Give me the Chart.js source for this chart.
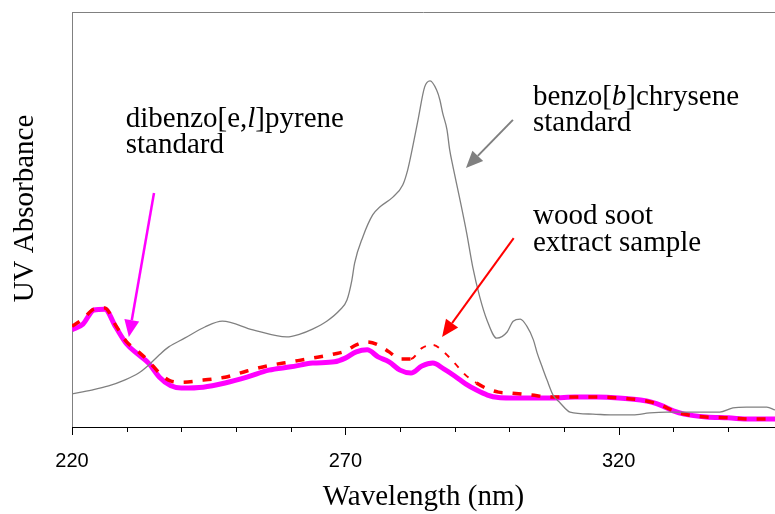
<!DOCTYPE html>
<html>
<head>
<meta charset="utf-8">
<script src="https://cdn.jsdelivr.net/npm/chart.js@4.4.0/dist/chart.umd.min.js"></script>
<style>
html,body{margin:0;padding:0;background:#fff;overflow:hidden}
#uv{display:block}
</style>
</head>
<body>
<canvas id="uv" width="775" height="514"></canvas>
<script>
// wavelength grid (nm) shared by the soot extract and the dibenzo[e,l]pyrene standard
const wavelengths = [220, 222, 224, 226, 228, 230, 232, 234, 236, 238, 240,
  244, 248, 252, 256, 260, 264, 268,
  270, 272, 274, 276, 278, 280, 282, 284, 286, 288, 290, 292, 294, 296, 298, 300,
  304, 308, 312, 316, 320, 324, 326, 328, 330, 332, 336, 340, 344, 348.6];

const dibenzoStd = [0.234, 0.248, 0.282, 0.284, 0.241, 0.200, 0.176, 0.154, 0.120, 0.100, 0.094,
  0.096, 0.106, 0.120, 0.137, 0.145, 0.154, 0.157,
  0.166, 0.181, 0.186, 0.169, 0.157, 0.137, 0.130, 0.147, 0.154, 0.140, 0.123, 0.104, 0.089, 0.077, 0.071, 0.070,
  0.070, 0.070, 0.072, 0.072, 0.070, 0.065, 0.060, 0.051, 0.039, 0.031, 0.024, 0.022, 0.019, 0.019];

const sootSample = [0.243, 0.260, 0.284, 0.287, 0.245, 0.205, 0.183, 0.159, 0.130, 0.111, 0.108,
  0.113, 0.120, 0.135, 0.148, 0.157, 0.166, 0.176,
  0.183, 0.198, 0.205, 0.198, 0.181, 0.164, 0.164, 0.190, 0.198, 0.181, 0.154, 0.125, 0.106, 0.092, 0.084, 0.082,
  0.077, 0.072, 0.072, 0.072, 0.070, 0.065, 0.060, 0.051, 0.039, 0.031, 0.024, 0.022, 0.019, 0.019];

// benzo[b]chrysene has a sharper band, so it gets its own grid
const benzoWl = [220, 223.6, 226.7, 229.6, 232.2, 234.0, 235.9, 237.7, 240.6, 244.3, 247.5,
  253.1, 259.3, 261.7, 264.0, 266.6, 269.0, 270.3, 271.2, 271.7, 273.2, 275.0, 276.3, 278.7,
  280.5, 281.4, 282.2, 283.3, 284.5, 285.5, 286.7, 287.3, 287.8, 288.6, 289.1, 289.7, 290.9,
  292.2, 293.3, 294.6, 295.9, 297.7, 299.6, 300.7, 302.0, 303.2, 304.4, 305.1, 306.0, 306.9,
  308.0, 309.3, 311.1, 315.3, 318.9, 322.6, 325.7, 328.8, 332.4, 338.5, 340.9, 343.4, 347.1, 348.6];
const benzoStd = [0.080, 0.089, 0.099, 0.113, 0.130, 0.149, 0.173, 0.193, 0.214, 0.241, 0.255,
  0.234, 0.217, 0.224, 0.236, 0.255, 0.282, 0.306, 0.354, 0.395, 0.458, 0.511, 0.530, 0.554,
  0.583, 0.619, 0.667, 0.740, 0.819, 0.834, 0.812, 0.788, 0.757, 0.716, 0.667, 0.627, 0.552,
  0.467, 0.386, 0.313, 0.258, 0.214, 0.229, 0.255, 0.260, 0.243, 0.210, 0.178, 0.145, 0.113,
  0.077, 0.058, 0.036, 0.031, 0.029, 0.029, 0.034, 0.036, 0.036, 0.036, 0.046, 0.048, 0.048, 0.041];

const xTickLabels = [220, 270, 320];
const xMin = 220, xMax = 348.6, tickStep = 10;

// callouts, placed in wavelength / absorbance units
const notes = [
  {at: [229.83, 0.723], lines: [[['dibenzo[e,', 0], ['l', 1], [']pyrene', 0]], [['standard', 0]]]},
  {at: [304.32, 0.776], lines: [[['benzo[', 0], ['b', 1], [']chrysene', 0]], [['standard', 0]]]},
  {at: [304.32, 0.489], lines: [[['wood soot', 0]], [['extract sample', 0]]]}
];
const arrows = [
  {from: [235.0, 0.564], to: [230.4, 0.217], color: '#ff00ff', width: 2.5},
  {from: [300.66, 0.740], to: [292.06, 0.624], color: '#808080', width: 2},
  {from: [300.8, 0.455], to: [287.7, 0.217], color: '#ff0000', width: 2}
];

const serif = '"Liberation Serif", "Times New Roman", serif';

function pts(xs, ys) {
  return xs.map((x, i) => ({x: x, y: ys[i]}));
}

// the sample trace thins out over the 283-294 nm shoulder
function inShoulder(ctx) {
  return ctx.p0.parsed.x >= 282 && ctx.p1.parsed.x <= 294;
}

const extras = {
  id: 'extras',
  afterDraw(chart) {
    const {ctx, chartArea: a, scales: {x, y}} = chart;
    ctx.save();

    // top frame line
    ctx.strokeStyle = '#808080';
    ctx.lineWidth = 1;
    ctx.beginPath();
    ctx.moveTo(a.left, a.top + 0.5);
    ctx.lineTo(a.right, a.top + 0.5);
    ctx.stroke();

    // tick marks, longer on the labelled ones
    ctx.strokeStyle = '#000';
    for (let v = xMin; v <= xMax; v += tickStep) {
      const px = Math.round(x.getPixelForValue(v)) + 0.5;
      ctx.beginPath();
      ctx.moveTo(px, a.bottom);
      ctx.lineTo(px, a.bottom + (xTickLabels.includes(v) ? 8 : 5));
      ctx.stroke();
    }

    // y axis title
    ctx.save();
    ctx.translate(33, (a.top + a.bottom) / 2 - 11);
    ctx.rotate(-Math.PI / 2);
    ctx.font = '29px ' + serif;
    ctx.fillStyle = '#000';
    ctx.textAlign = 'center';
    ctx.textBaseline = 'alphabetic';
    ctx.fillText('UV Absorbance', 0, 0);
    ctx.restore();

    // callout text
    ctx.fillStyle = '#000';
    ctx.textBaseline = 'alphabetic';
    ctx.textAlign = 'left';
    notes.forEach(n => {
      const x0 = x.getPixelForValue(n.at[0]);
      let by = y.getPixelForValue(n.at[1]);
      n.lines.forEach(runs => {
        let cx = x0;
        runs.forEach(([txt, it]) => {
          ctx.font = (it ? 'italic ' : '') + '29px ' + serif;
          ctx.fillText(txt, cx, by);
          cx += ctx.measureText(txt).width;
        });
        by += 26.5;
      });
    });

    // arrows
    arrows.forEach(ar => {
      const x1 = x.getPixelForValue(ar.from[0]), y1 = y.getPixelForValue(ar.from[1]);
      const x2 = x.getPixelForValue(ar.to[0]), y2 = y.getPixelForValue(ar.to[1]);
      const ang = Math.atan2(y2 - y1, x2 - x1);
      const hl = 17, hw = 7.5;
      const bx = x2 - hl * Math.cos(ang), by = y2 - hl * Math.sin(ang);
      ctx.strokeStyle = ar.color;
      ctx.fillStyle = ar.color;
      ctx.lineWidth = ar.width;
      ctx.beginPath();
      ctx.moveTo(x1, y1);
      ctx.lineTo(bx, by);
      ctx.stroke();
      ctx.beginPath();
      ctx.moveTo(x2, y2);
      ctx.lineTo(bx + hw * Math.sin(ang), by - hw * Math.cos(ang));
      ctx.lineTo(bx - hw * Math.sin(ang), by + hw * Math.cos(ang));
      ctx.closePath();
      ctx.fill();
    });

    ctx.restore();
  }
};

new Chart(document.getElementById('uv'), {
  type: 'line',
  data: {
    datasets: [{
      label: 'benzo[b]chrysene standard',
      data: pts(benzoWl, benzoStd),
      borderColor: '#808080',
      borderWidth: 1.3,
      order: 0
    }, {
      label: 'wood soot extract sample',
      data: pts(wavelengths, sootSample),
      borderColor: '#ff0000',
      borderWidth: 3.5,
      borderDash: [9, 10],
      segment: {
        borderWidth: ctx => inShoulder(ctx) ? 2 : undefined,
        borderDash: ctx => inShoulder(ctx) ? [6, 8] : undefined
      },
      order: 1
    }, {
      label: 'dibenzo[e,l]pyrene standard',
      data: pts(wavelengths, dibenzoStd),
      borderColor: '#ff00ff',
      borderWidth: 5,
      order: 2
    }]
  },
  plugins: [extras],
  options: {
    responsive: false,
    animation: false,
    devicePixelRatio: 1,
    layout: {padding: {top: 12, left: 0, right: 0, bottom: 0}},
    elements: {
      point: {radius: 0},
      line: {cubicInterpolationMode: 'monotone', fill: false, borderJoinStyle: 'round'}
    },
    plugins: {
      legend: {display: false},
      tooltip: {enabled: false}
    },
    scales: {
      x: {
        type: 'linear',
        min: xMin,
        max: xMax,
        grid: {display: false, drawTicks: false},
        border: {display: true, color: '#000', width: 1},
        afterBuildTicks: s => { s.ticks = xTickLabels.map(v => ({value: v})); },
        afterFit: s => { s.height = 87; },
        ticks: {
          color: '#000',
          padding: 22,
          maxRotation: 0,
          autoSkip: false,
          font: {family: '"Liberation Sans", Arial, sans-serif', size: 20}
        },
        title: {
          display: true,
          text: 'Wavelength (nm)',
          color: '#000',
          font: {family: serif, size: 29},
          padding: {top: 0, bottom: -1}
        }
      },
      y: {
        min: 0,
        max: 1,
        grid: {display: false, drawTicks: false},
        border: {display: true, color: '#808080', width: 1},
        ticks: {display: false},
        afterFit: s => { s.width = 72; }
      }
    }
  }
});
</script>
</body>
</html>
